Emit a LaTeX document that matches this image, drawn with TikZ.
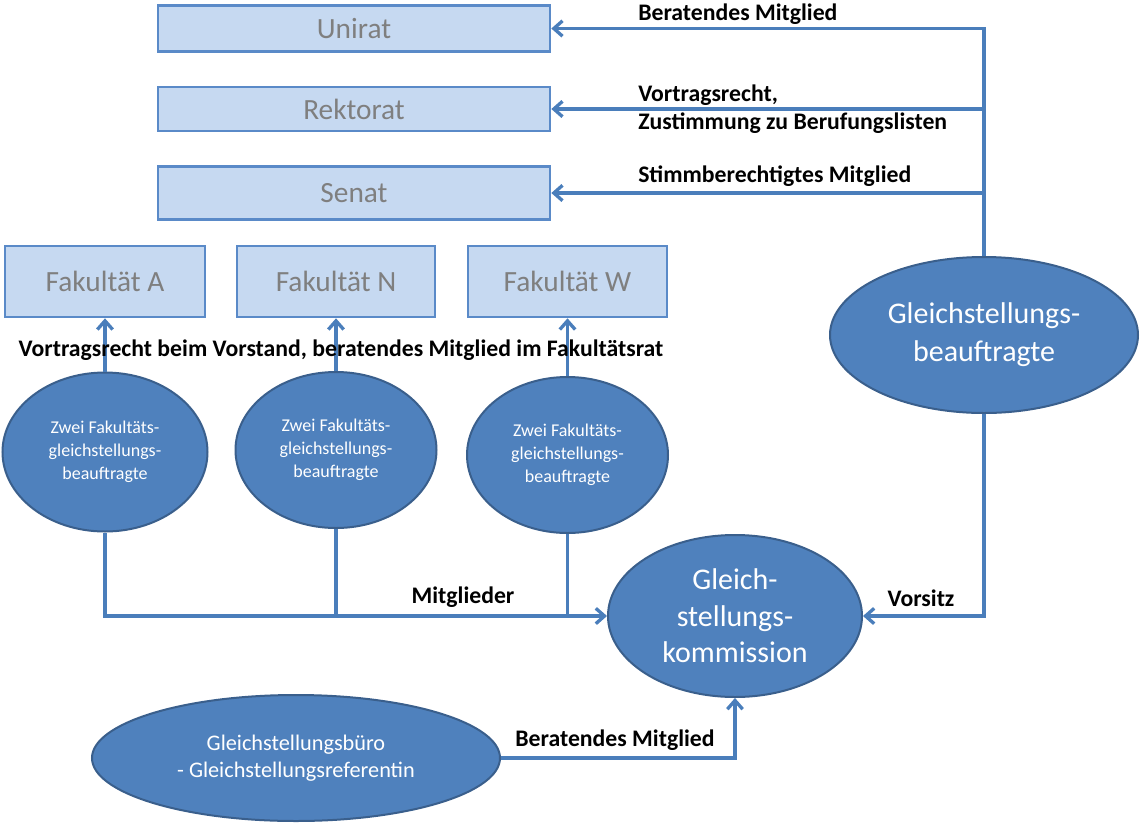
\documentclass[tikz,border=0pt]{standalone}
\usepackage{fontspec}
\setmainfont{Carlito}
\usetikzlibrary{shapes.geometric,arrows.meta}
\definecolor{boxfill}{HTML}{C6D9F1}
\definecolor{boxline}{HTML}{5A8AC8}
\definecolor{ellfill}{HTML}{4F81BD}
\definecolor{ellline}{HTML}{3A5F8C}
\definecolor{connc}{HTML}{4A7EBB}
\definecolor{boxtext}{HTML}{7F7F7F}
\begin{document}
\begin{tikzpicture}[x=0.75pt,y=-0.75pt,
  orgbox/.style={draw=boxline,fill=boxfill,line width=2pt,text=boxtext,
    font=\fontsize{22}{26}\selectfont,inner sep=0pt},
  oval/.style={ellipse,draw=ellline,fill=ellfill,line width=1.5pt,text=white,
    align=center,inner sep=0pt},
  link/.style={draw=connc,line width=2.5pt},
  arr/.style={link,-{Straight Barb[length=6.5pt,width=11.5pt]}},
  lbl/.style={font=\bfseries\fontsize{17.8}{21}\selectfont,inner sep=0pt,text=black}]
\fill[white] (0,0) rectangle (1140,822);
\useasboundingbox (0,0) rectangle (1140,822);

% boxes
\node[orgbox,minimum width=294pt,minimum height=34.5pt] (unirat) at (354,28.5) {Unirat};
\node[orgbox,minimum width=294pt,minimum height=33pt] (rektorat) at (354,109) {Rektorat};
\node[orgbox,minimum width=294pt,minimum height=39.75pt] (senat) at (354,193) {Senat};
\node[orgbox,minimum width=150pt,minimum height=53.25pt] (fakA) at (105,281.5) {Fakultät A};
\node[orgbox,minimum width=148.5pt,minimum height=53.25pt] (fakN) at (336,281.5) {Fakultät N};
\node[orgbox,minimum width=149.25pt,minimum height=53.25pt] (fakW) at (567.5,281.5) {Fakultät W};

% ellipses
\node[oval,minimum width=153.75pt,minimum height=119.25pt,
  font=\fontsize{13.5}{17.3}\selectfont] (fz1) at (105,452)
  {Zwei Fakultäts-\\gleichstellungs-\\beauftragte};
\node[oval,minimum width=150.75pt,minimum height=117pt,
  font=\fontsize{13.5}{17.3}\selectfont] (fz2) at (336,450)
  {Zwei Fakultäts-\\gleichstellungs-\\beauftragte};
\node[oval,minimum width=150.75pt,minimum height=117pt,
  font=\fontsize{13.5}{17.3}\selectfont] (fz3) at (567.5,455)
  {Zwei Fakultäts-\\gleichstellungs-\\beauftragte};
\node[oval,minimum width=231pt,minimum height=117pt,
  font=\fontsize{22.5}{28.5}\selectfont] (gb) at (984,335)
  {Gleichstellungs-\\beauftragte};
\node[oval,minimum width=190.5pt,minimum height=121.5pt,
  font=\fontsize{22.5}{27.5}\selectfont] (gk) at (735,616)
  {Gleich-\\stellungs-\\kommission};
\node[oval,minimum width=306pt,minimum height=94.5pt,
  font=\fontsize{16.7}{20.3}\selectfont] (buero) at (296,758)
  {Gleichstellungsbüro\\- Gleichstellungsreferentin};

% connectors from Gleichstellungsbeauftragte
\draw[arr] (gb.north) -- (gb.north |- unirat.east) -- (unirat.east);
\draw[arr] (gb.north |- rektorat.east) -- (rektorat.east);
\draw[arr] (gb.north |- senat.east) -- (senat.east);
\draw[arr] (gb.south) |- (gk.east);

% faculty connectors
\draw[arr] (fz1.north) -- (fakA.south);
\draw[arr] (fz2.north) -- (fakN.south);
\draw[arr] (fz3.north) -- (fakW.south);
\draw[arr] (fz1.south) |- (gk.west);
\draw[link] (fz2.south) -- (fz2.south |- gk.west);
\draw[link] (fz3.south) -- (fz3.south |- gk.west);

% office
\draw[arr] (buero.east) -| (gk.south);

% labels
\node[lbl,anchor=west] (l1) at (638,14) {Beratendes Mitglied};
\node[lbl,anchor=west,align=left] (l2) at (638,109) {Vortragsrecht,\\Zustimmung zu Berufungslisten};
\node[lbl,anchor=west] (l3) at (638,176) {Stimmberechtigtes Mitglied};
\node[lbl] (l4) at (341,350) {Vortragsrecht beim Vorstand, beratendes Mitglied im Fakultätsrat};
\node[lbl] (l5) at (463,597) {Mitglieder};
\node[lbl] (l6) at (921,598) {Vorsitz};
\node[lbl] (l7) at (615,740) {Beratendes Mitglied};
\end{tikzpicture}
\end{document}
